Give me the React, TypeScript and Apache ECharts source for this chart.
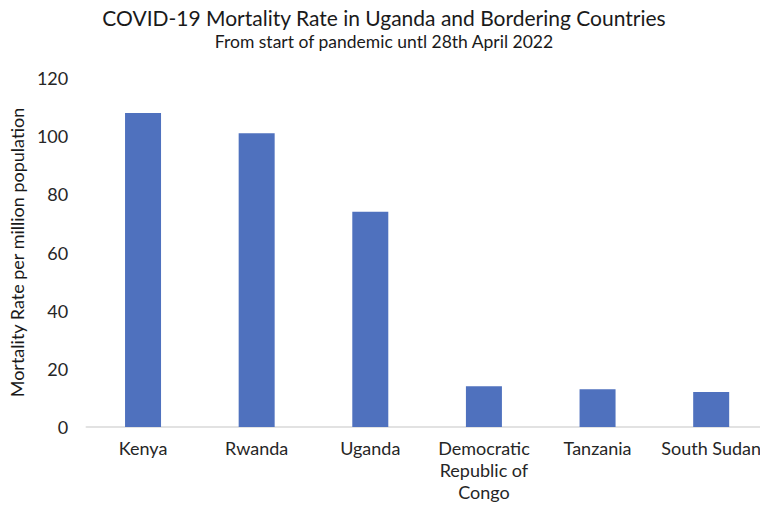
import React, { useEffect, useRef } from "react";
import * as echarts from "echarts";

const countries = [
  "Kenya",
  "Rwanda",
  "Uganda",
  "Democratic\nRepublic of\nCongo",
  "Tanzania",
  "South Sudan",
];
const mortalityPerMillion = [108, 101, 74, 14, 13, 12];
const chartTitle = "COVID-19 Mortality Rate in Uganda and Bordering Countries";
const chartSubtitle = "From start of pandemic untl 28th April 2022";
const yAxisName = "Mortality Rate per million population";

const FONT = "Lato, 'Open Sans', sans-serif";

export default function App() {
  const ref = useRef<HTMLDivElement>(null);

  useEffect(() => {
    if (!ref.current) return;
    const chart = echarts.init(ref.current, undefined, { renderer: "svg" });
    chart.setOption({
      animation: false,
      backgroundColor: "#ffffff",
      title: {
        text: chartTitle,
        subtext: chartSubtitle,
        left: "center",
        top: 2,
        itemGap: 4,
        textStyle: {
          fontFamily: FONT,
          fontSize: 21,
          fontWeight: "normal",
          color: "#1a1a1a",
        },
        subtextStyle: {
          fontFamily: FONT,
          fontSize: 17.5,
          color: "#1a1a1a",
        },
      },
      grid: {
        left: 80,
        right: -2,
        top: 78,
        bottom: 84,
        containLabel: false,
      },
      xAxis: {
        type: "category",
        data: countries,
        axisLine: { lineStyle: { color: "#d9d9d9", width: 1.5 } },
        axisTick: { show: false },
        axisLabel: {
          fontFamily: FONT,
          fontSize: 18,
          color: "#262626",
          margin: 10,
          lineHeight: 22,
          interval: 0,
        },
      },
      yAxis: {
        type: "value",
        min: 0,
        max: 120,
        interval: 20,
        name: yAxisName,
        nameLocation: "middle",
        nameGap: 55,
        nameTextStyle: {
          fontFamily: FONT,
          fontSize: 18,
          color: "#1a1a1a",
        },
        axisLine: { show: false },
        axisTick: { show: false },
        splitLine: { show: false },
        axisLabel: {
          fontFamily: FONT,
          fontSize: 18,
          color: "#262626",
          margin: 18,
        },
      },
      series: [
        {
          type: "bar",
          data: mortalityPerMillion,
          barWidth: 36,
          itemStyle: { color: "#4f71be" },
        },
      ],
    });
    return () => chart.dispose();
  }, []);

  return <div ref={ref} style={{ width: 768, height: 511, margin: -8 }} />;
}
